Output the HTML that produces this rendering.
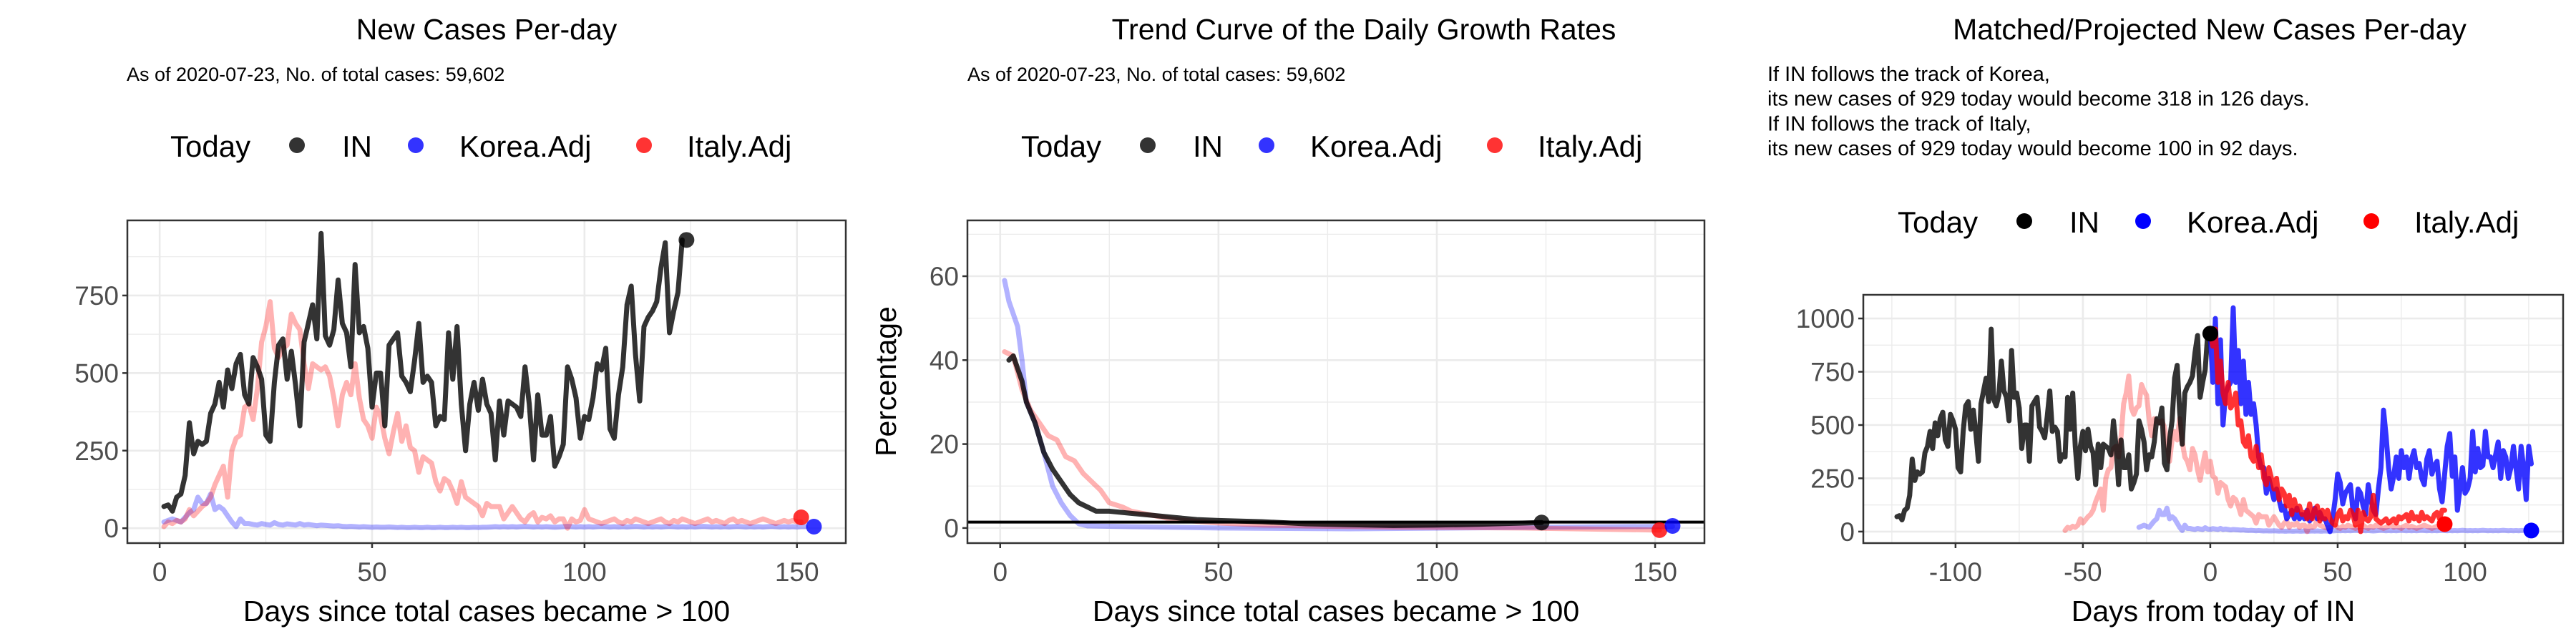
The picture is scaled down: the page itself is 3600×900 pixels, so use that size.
<!DOCTYPE html>
<html><head><meta charset="utf-8"><style>
html,body{margin:0;padding:0;background:#fff;}
svg{display:block;font-family:"Liberation Sans",Arial,sans-serif;}
</style></head><body>
<svg id="chart" width="3600" height="900" viewBox="0 0 3600 900" xmlns="http://www.w3.org/2000/svg"></svg>
<script>
// ---------- DATA ----------
const inCases = [70,75,55,100,110,170,340,240,280,270,280,370,400,470,390,510,450,530,560,430,400,550,520,480,300,280,470,590,610,480,570,460,330,600,660,720,610,950,620,590,640,800,660,630,520,850,630,650,580,390,500,500,330,590,610,630,490,470,440,540,660,470,490,470,330,360,350,630,480,650,400,250,400,470,380,480,400,370,220,410,300,410,400,390,360,520,400,220,430,300,300,360,200,230,270,520,480,420,290,360,350,420,530,510,580,320,290,430,520,720,780,560,410,650,680,700,730,840,920,630,700,760,929];
const italyCases = [5,20,15,25,20,30,60,40,55,70,80,100,140,170,200,100,250,290,300,390,400,350,450,600,650,730,580,550,580,590,690,660,640,530,450,530,520,510,520,490,420,330,430,470,430,530,420,350,330,290,390,360,290,240,310,370,280,330,260,250,180,230,220,210,150,120,160,150,120,80,150,100,90,80,70,40,80,70,70,70,30,50,70,50,30,20,40,50,20,35,30,40,20,30,30,0,30,20,25,60,30,25,20,15,20,25,30,20,15,25,20,30,25,20,15,20,25,30,20,15,25,20,30,25,20,15,20,25,30,20,25,20,15,25,30,20,25,20,15,20,25,30,25,20,15,20,25,20,25,20,20];
const koreaCases = [20,25,30,25,20,35,50,60,100,80,80,110,60,70,60,40,20,5,30,15,15,12,10,15,12,10,18,12,10,14,12,10,15,10,12,10,8,10,9,8,7,8,6,5,6,5,4,5,4,3,4,3,3,4,3,2,3,2,2,3,2,2,3,2,2,3,2,2,3,2,3,2,2,3,2,3,3,4,5,4,5,4,5,4,5,6,5,4,5,4,5,4,3,4,5,6,5,4,5,4,5,4,5,6,5,4,5,4,5,4,5,6,5,4,5,4,5,4,5,6,5,4,5,4,5,4,5,6,5,4,5,4,5,4,5,6,5,4,5,4,5,4,5,6,5,4,5,4,5,4,5,5];
const grDaysIN = [2,3,5,6,8,10,12,14,16,18,20,22,25,30,35,40,45,50,60,70,80,90,100,110,124];
const grIN = [40,41,35,30,25,18,14,11,8,6,5,4,4,3.5,3,2.5,2,1.8,1.5,1,0.8,0.6,0.7,0.9,1.3];
const grDaysKorea = [1,2,4,5,6,8,10,12,14,16,18,20,30,50,80,154];
const grKorea = [59,54,48,40,30,25,18,10,6,3,1,0.5,0.3,0,-0.2,0.4];
const grDaysItaly = [1,3,5,7,9,11,13,15,17,19,21,23,25,28,30,35,40,50,60,70,90,120,151];
const grItaly = [42,41,33,28,25,22,21,17,16,13,11,9,6,5,4,3,2,1.2,0.7,0.5,0.2,0,-0.5];
const koreaProj = [929,700,1000,600,900,500,650,680,700,1050,700,850,600,800,550,700,550,600,500,350,300,300,180,250,200,150,200,150,100,120,60,80,100,60,110,60,80,60,100,50,70,110,60,90,60,60,30,0,60,150,270,230,130,180,200,220,100,60,200,180,120,80,220,150,100,80,200,300,570,450,300,200,260,350,250,380,300,350,250,340,380,300,320,250,220,340,380,270,310,330,200,140,270,400,460,260,350,100,200,300,180,200,250,470,280,390,300,310,470,350,350,300,360,420,250,380,350,250,300,400,300,200,400,300,150,400,318];
const italyProj = [929,870,950,700,800,650,600,700,580,600,650,500,520,420,400,450,350,330,400,300,360,250,220,300,250,200,250,150,200,180,120,170,80,150,100,120,80,90,60,130,60,100,120,50,100,60,100,60,40,30,80,100,50,70,60,100,80,30,100,0,90,60,50,70,170,60,50,40,50,60,40,50,60,40,70,60,70,80,50,90,60,70,50,90,60,70,60,50,80,90,60,100,100];
const yTicks1 = [0,250,500,750];
const xTicks1 = [0,50,100,150];
const yTicks2 = [0,20,40,60];
const yTicks3 = [0,250,500,750,1000];
const xTicks3 = [-100,-50,0,50,100];
const todayIN = 929, todayItaly1 = 35, todayKorea1 = 5;
const todayGrIN = 1.3, todayGrItaly = -0.5, todayGrKorea = 0.5;
const todayKoreaProj = 5, todayItalyProj = 35;

// ---------- HELPERS ----------
const svg = document.getElementById('chart');
const NS = 'http://www.w3.org/2000/svg';
function mk(tag, attrs, parent){
  const e = document.createElementNS(NS, tag);
  for (const k in attrs) e.setAttribute(k, attrs[k]);
  (parent||svg).appendChild(e);
  return e;
}
function txt(s, x, y, size, anchor, fill, parent){
  const t = mk('text', {x:x, y:y, 'font-size':size, 'text-anchor':anchor||'start', fill:fill||'#000'}, parent);
  t.textContent = s;
  return t;
}
function linScale(d0,d1,r0,r1){ return v => r0 + (v-d0)/(d1-d0)*(r1-r0); }

function panel(P){
  const g = mk('g', {});
  
  
  const X = linScale(P.xd[0],P.xd[1],P.l,P.r), Y = linScale(P.yd[0],P.yd[1],P.b,P.t);
  P.xMinor.forEach(v=>{ const l=mk('line',{x1:X(v),x2:X(v),y1:P.t,y2:P.b,stroke:'#ebebeb','stroke-width':1.3},g);
      });
  P.yMinor.forEach(v=>{ const l=mk('line',{x1:P.l,x2:P.r,y1:Y(v),y2:Y(v),stroke:'#ebebeb','stroke-width':1.3},g);
      });
  P.xt.forEach(v=>{ const l=mk('line',{x1:X(v),x2:X(v),y1:P.t,y2:P.b,stroke:'#ebebeb','stroke-width':2.6},g);
      });
  P.yt.forEach(v=>{ const l=mk('line',{x1:P.l,x2:P.r,y1:Y(v),y2:Y(v),stroke:'#ebebeb','stroke-width':2.6},g);
      });
  const clip = mk('clipPath',{id:'clip'+P.id},g);
  mk('rect',{x:P.l,y:P.t,width:P.r-P.l,height:P.b-P.t},clip);
  const sg = mk('g',{'clip-path':'url(#clip'+P.id+')'},g);
  P.series.forEach(s=>{
    const pts = s.y.map((v,i)=>X(s.x[i])+','+Y(v)).join(' ');
    const pl = mk('polyline',{points:pts,fill:'none',stroke:s.c,'stroke-opacity':s.o,'stroke-width':7,'stroke-linejoin':'round','stroke-linecap':'round'},sg);
    
    
  });
  if (P.hline!==undefined){
    const hl = mk('line',{x1:P.l,x2:P.r,y1:Y(P.hline),y2:Y(P.hline),stroke:'#000','stroke-width':4},sg);
    
    
  }
  P.dots.forEach(d=>{
    const c = mk('circle',{cx:X(d.x),cy:Y(d.y),r:11,fill:d.c,'fill-opacity':d.o||1},g);
    
    
  });
  const b = mk('rect',{x:P.l,y:P.t,width:P.r-P.l,height:P.b-P.t,fill:'none',stroke:'#333','stroke-width':2.5},g);
   
  P.yt.forEach(v=>{
    const tk = mk('line',{x1:P.l-7,x2:P.l,y1:Y(v),y2:Y(v),stroke:'#333','stroke-width':2.5},g);
     
    const t = txt(String(v), P.l-12, Y(v)+13, 37, 'end', '#4d4d4d', g);
     
  });
  P.xt.forEach(v=>{
    const tk = mk('line',{x1:X(v),x2:X(v),y1:P.b,y2:P.b+7,stroke:'#333','stroke-width':2.5},g);
     
    const t = txt(String(v), X(v), 812, 37, 'middle', '#4d4d4d', g);
     
  });
  const xt = txt(P.xtitle, (P.l+P.r)/2, 868, 41, 'middle', '#000', g);
   
  return {X,Y,g};
}
function legend(x0, y, faded){
  const g = mk('g',{});
  
  
  const lt = txt('Today', x0, y, 42, 'start', '#000', g);
   
  const items = [['IN','#000',177,240],['Korea.Adj','#00f',343,404],['Italy.Adj','#f00',662,722]];
  items.forEach(it=>{
    const c = mk('circle',{cx:x0+it[2],cy:y-16,r:11,fill:it[1],'fill-opacity':faded?0.8:1},g);
    
    
    const t = txt(it[0], x0+it[3], y, 42, 'start', '#000', g);
    
    
  });
}
const days = n => Array.from({length:n},(_,i)=>i+1);
const shift = (n,o) => Array.from({length:n},(_,i)=>i+1+o);
const from0 = n => Array.from({length:n},(_,i)=>i);

// ---------- PANEL 1 ----------
let t;
t = txt('New Cases Per-day', 680, 55, 41, 'middle');  
t = txt('As of 2020-07-23, No. of total cases: 59,602', 177, 113, 27);  
legend(238, 219, true);
panel({id:1,name:'new-cases-panel',l:178,r:1182,t:308,b:759,xd:[-7.6,161.5],yd:[-48,992],
  xt:xTicks1,yt:yTicks1,xMinor:[25,75,125],yMinor:[125,375,625,875],xtitle:'Days since total cases became > 100',
  series:[
    {name:'korea-line',x:days(koreaCases.length),y:koreaCases,c:'#00f',o:0.3},
    {name:'italy-line',x:days(italyCases.length),y:italyCases,c:'#f00',o:0.3},
    {name:'in-line',x:days(inCases.length),y:inCases,c:'#000',o:0.8}],
  dots:[{name:'today-in',x:124,y:todayIN,c:'#000',o:0.8},{name:'today-italy',x:151,y:todayItaly1,c:'#f00',o:0.8},{name:'today-korea',x:154,y:todayKorea1,c:'#00f',o:0.8}]});

// ---------- PANEL 2 ----------
t = txt('Trend Curve of the Daily Growth Rates', 1906, 55, 41, 'middle');  
t = txt('As of 2020-07-23, No. of total cases: 59,602', 1352, 113, 27);  
legend(1427, 219, true);
panel({id:2,name:'growth-rate-panel',l:1352,r:2382,t:308,b:759,xd:[-7.5,161.3],yd:[-3.6,73.3],
  xt:xTicks1,yt:yTicks2,xMinor:[25,75,125],yMinor:[10,30,50,70],xtitle:'Days since total cases became > 100',hline:1.4,
  series:[
    {name:'korea-growth-line',x:grDaysKorea,y:grKorea,c:'#00f',o:0.3},
    {name:'italy-growth-line',x:grDaysItaly,y:grItaly,c:'#f00',o:0.3},
    {name:'in-growth-line',x:grDaysIN,y:grIN,c:'#000',o:0.8}],
  dots:[{name:'today-in',x:124,y:todayGrIN,c:'#000',o:0.8},{name:'today-italy',x:151,y:todayGrItaly,c:'#f00',o:0.8},{name:'today-korea',x:154,y:todayGrKorea,c:'#00f',o:0.8}]});
t = txt('Percentage', 0, 0, 41, 'middle'); t.setAttribute('transform','translate(1252,533) rotate(-90)');
 

// ---------- PANEL 3 ----------
t = txt('Matched/Projected New Cases Per-day', 3088, 55, 41, 'middle');  
['If IN follows the track of Korea,','its new cases of 929 today would become 318 in 126 days.','If IN follows the track of Italy,','its new cases of 929 today would become 100 in 92 days.'].forEach((s,i)=>{
  const a = txt(s, 2470, 113+i*34.7, 29);  
});
legend(2652, 325, false);
panel({id:3,name:'projection-panel',l:2604,r:3582,t:412,b:759,xd:[-136.2,138.5],yd:[-54,1111],
  xt:xTicks3,yt:yTicks3,xMinor:[-125,-75,-25,25,75,125],yMinor:[125,375,625,875],xtitle:'Days from today of IN',
  series:[
    {name:'korea-history-line',x:shift(koreaCases.length,-29),y:koreaCases,c:'#00f',o:0.3},
    {name:'italy-history-line',x:shift(italyCases.length,-58),y:italyCases,c:'#f00',o:0.3},
    {name:'in-line',x:shift(inCases.length,-124),y:inCases,c:'#000',o:0.8},
    {name:'korea-projection-line',x:from0(koreaProj.length),y:koreaProj,c:'#00f',o:0.8},
    {name:'italy-projection-line',x:from0(italyProj.length),y:italyProj,c:'#f00',o:0.8}],
  dots:[{name:'today-in',x:0,y:todayIN,c:'#000'},{name:'projected-korea',x:126,y:todayKoreaProj,c:'#00f'},{name:'projected-italy',x:92,y:todayItalyProj,c:'#f00'}]});
</script>
</body></html>
